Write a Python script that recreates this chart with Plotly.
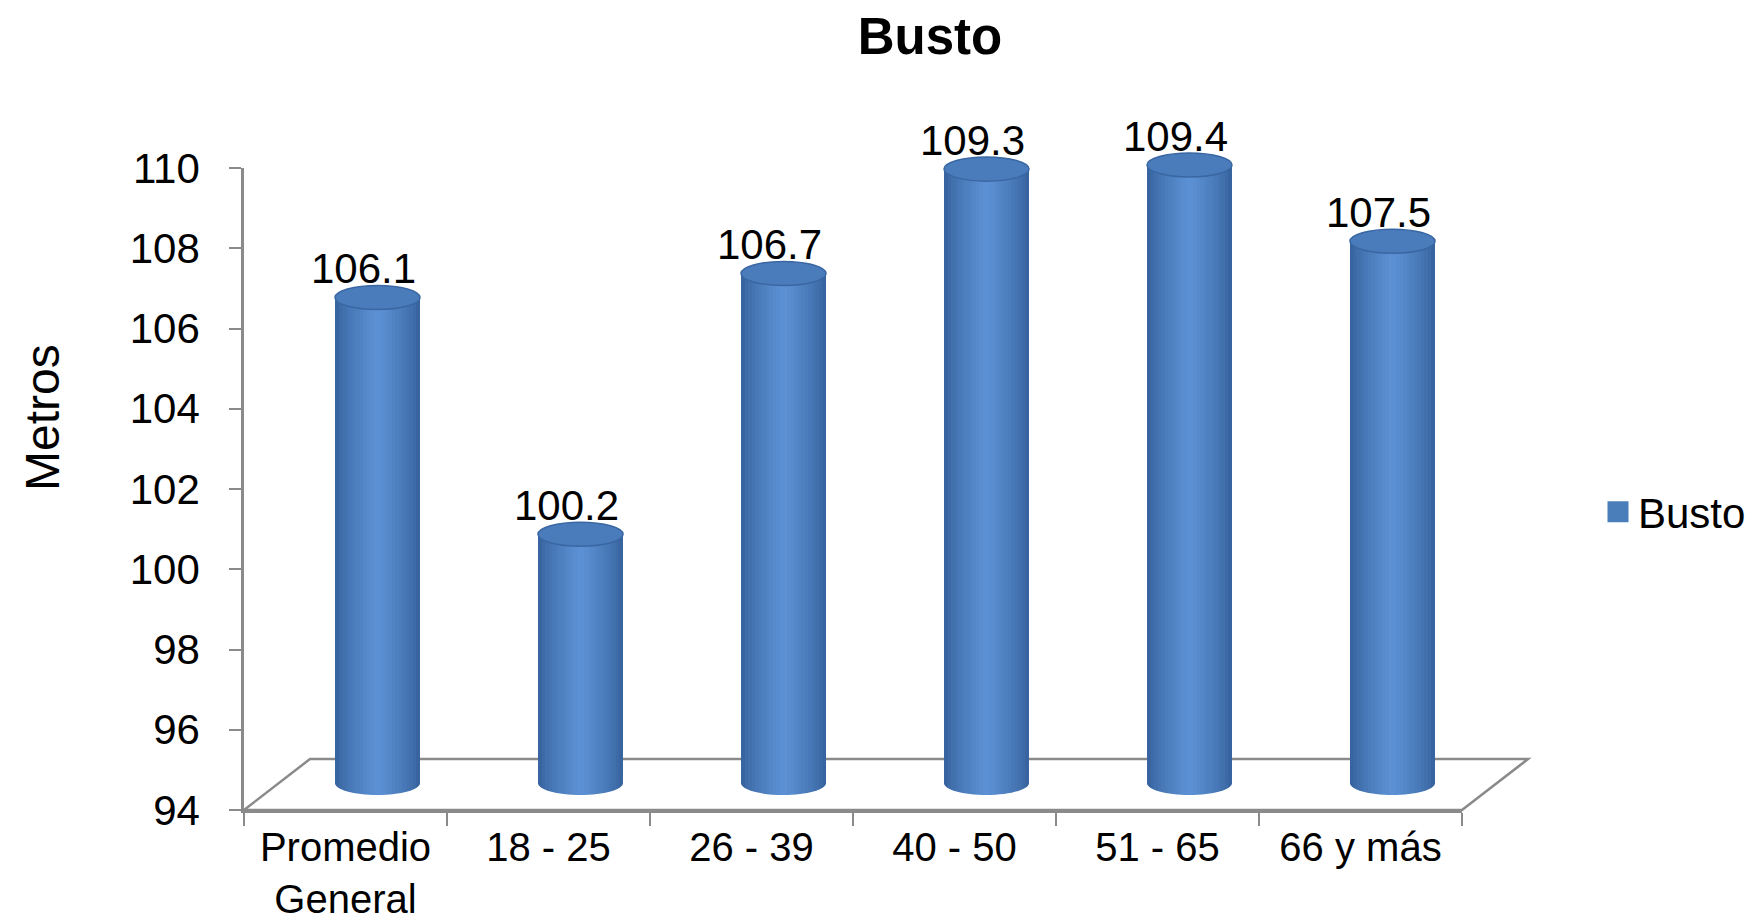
import plotly.graph_objects as go

# ---------------- data ----------------
categories = ["Promedio General", "18 - 25", "26 - 39", "40 - 50", "51 - 65", "66 y más"]
tick_labels = ["Promedio<br>General", "18 - 25", "26 - 39", "40 - 50", "51 - 65", "66 y más"]
values = [106.1, 100.2, 106.7, 109.3, 109.4, 107.5]
value_labels = ["106.1", "100.2", "106.7", "109.3", "109.4", "107.5"]
series_name = "Busto"
y_tick_values = [94, 96, 98, 100, 102, 104, 106, 108, 110]
y_min, y_max = 94, 110

# ---------------- style / geometry ----------------
FONT = "Liberation Sans, Arial, sans-serif"
W, H = 1758, 920
L_M, R_M, T_M, B_M = 236, 238, 100, 90
PW, PH = W - L_M - R_M, H - T_M - B_M
AX_BOTTOM_PX = 802      # y pixel of front axis bottom (value 94)
AX_TOP_PX = 160         # y pixel of value 110
PLOT_BOTTOM_PX = H - B_M
FRONT_W = 1218          # px width of front plane
FRONT_H = AX_BOTTOM_PX - AX_TOP_PX
DX, DY = 32, 27         # 3D offset of the bar plane (px)
FLOOR_DX, FLOOR_DY = 66, 51
bar_w = 0.419           # category units
eh = 0.30               # ellipse half-height in value units
base_val = y_min
px_per_unit = FRONT_H / (y_max - y_min)
y2_lo = y_min - 1

edge_col = (0x38, 0x64, 0xa0)
mid_col = (0x5b, 0x91, 0xd4)
n_layers = 12


def mix(a, b, t):
    return "#%02x%02x%02x" % tuple(int(round(a[i] + (b[i] - a[i]) * t)) for i in range(3))


def py(px):
    return (PLOT_BOTTOM_PX - px) / PH


def pxf(px):
    return (px - L_M) / PW


fig = go.Figure()

# legend entry / front-axis category carrier
fig.add_trace(go.Scatter(
    x=categories, y=[None] * len(categories), mode="markers", name=series_name,
    marker=dict(symbol="square", size=16, color="#4a7ebb",
                line=dict(color="#4a7ebb", width=5)),
    xaxis="x", yaxis="y", hoverinfo="skip", showlegend=True))

# cylinder bodies (nested bars -> horizontal gradient)
for k in range(n_layers):
    f = 1.0 - k / n_layers
    t = (k / (n_layers - 1)) ** 0.8
    fig.add_trace(go.Bar(
        x=categories, y=[v - (base_val - eh) for v in values], base=base_val - eh,
        width=bar_w * f, marker=dict(color=mix(edge_col, mid_col, t), line=dict(width=0)),
        xaxis="x2", yaxis="y2", showlegend=False, hoverinfo="skip"))

shapes = []
# floor parallelogram (paper coordinates)
fy = py(AX_BOTTOM_PX)
by = py(AX_BOTTOM_PX - FLOOR_DY)
shapes.append(dict(type="path", xref="paper", yref="paper", layer="below",
                   path=(f"M{pxf(L_M)},{fy} L{pxf(L_M + FRONT_W)},{fy} "
                         f"L{pxf(L_M + FRONT_W + FLOOR_DX)},{by} L{pxf(L_M + FLOOR_DX)},{by} Z"),
                   fillcolor="white", line=dict(color="#8a8a8a", width=2.5)))

kk = 0.5523
annotations = []
for i, v in enumerate(values):
    h = bar_w / 2
    Lx, Rx = i - h, i + h
    b = base_val
    # white mask under the lower half-ellipse -> rounded cylinder base
    shapes.append(dict(
        type="path", xref="x2", yref="y2", layer="above",
        path=(f"M{Lx},{b} C{Lx},{b - kk * eh} {i - kk * h},{b - eh} {i},{b - eh} "
              f"C{i + kk * h},{b - eh} {Rx},{b - kk * eh} {Rx},{b} "
              f"L{Rx + 0.01},{b} L{Rx + 0.01},{b - eh - 0.25} L{Lx - 0.01},{b - eh - 0.25} "
              f"L{Lx - 0.01},{b} Z"),
        fillcolor="white", line=dict(width=0)))
    # top ellipse
    shapes.append(dict(type="circle", xref="x2", yref="y2", layer="above",
                       x0=Lx, x1=Rx, y0=v - eh, y1=v + eh,
                       fillcolor="#4a7cbb", line=dict(color="#3a67a3", width=1.5)))
    annotations.append(dict(xref="x2", yref="y2", x=categories[i], y=v, text=value_labels[i],
                            showarrow=False, yanchor="bottom", xanchor="center",
                            xshift=-14, yshift=3,
                            font=dict(family=FONT, size=42, color="black")))

# y-axis title, placed like the reference
annotations.append(dict(xref="paper", yref="paper", x=pxf(34), y=py(410), text="Metros",
                        textangle=-90, showarrow=False, xanchor="center", yanchor="middle",
                        font=dict(family=FONT, size=48, color="black")))

fig.update_layout(
    width=W, height=H,
    margin=dict(l=L_M, r=R_M, t=T_M, b=B_M, autoexpand=False),
    paper_bgcolor="white", plot_bgcolor="rgba(0,0,0,0)",
    barmode="overlay", bargap=0,
    font=dict(family=FONT, size=42, color="black"),
    title=dict(text="<b>Busto</b>", x=922 / W, xanchor="center", xref="container",
               y=1 - 10 / H, yanchor="top", yref="container",
               font=dict(family=FONT, size=51, color="black")),
    xaxis=dict(domain=[0, FRONT_W / PW], type="category", categoryorder="array",
               categoryarray=categories, range=[-0.5, len(categories) - 0.5],
               tickmode="array", tickvals=categories, ticktext=tick_labels,
               tickson="boundaries", ticks="outside", ticklen=13, tickwidth=2,
               tickcolor="#8a8a8a", showline=True, linecolor="#8a8a8a", linewidth=2.5,
               showgrid=False, zeroline=False, ticklabelstandoff=0,
               tickfont=dict(family=FONT, size=40, color="black"), anchor="y",
               fixedrange=True),
    yaxis=dict(domain=[py(AX_BOTTOM_PX), py(AX_TOP_PX)], range=[y_min, y_max],
               tickmode="array", tickvals=y_tick_values, ticks="outside", ticklen=12,
               tickwidth=2, tickcolor="#8a8a8a", showline=True, linecolor="#8a8a8a",
               linewidth=2.5, showgrid=False, zeroline=False, ticklabelstandoff=21,
               tickfont=dict(family=FONT, size=42, color="black"), anchor="x",
               fixedrange=True),
    xaxis2=dict(domain=[DX / PW, (FRONT_W + DX) / PW], type="category",
                categoryorder="array", categoryarray=categories,
                range=[-0.5, len(categories) - 0.5], visible=False, anchor="y2",
                fixedrange=True),
    yaxis2=dict(domain=[py(AX_BOTTOM_PX - DY + (y_min - y2_lo) * px_per_unit),
                        py(AX_TOP_PX - DY)],
                range=[y2_lo, y_max], visible=False, anchor="x2", fixedrange=True),
    legend=dict(x=pxf(1590), y=py(504), xanchor="left", yanchor="middle",
                font=dict(family=FONT, size=42, color="black"),
                bgcolor="rgba(0,0,0,0)", borderwidth=0),
    shapes=shapes,
    annotations=annotations,
    showlegend=True,
)

fig.write_html("out.html")
